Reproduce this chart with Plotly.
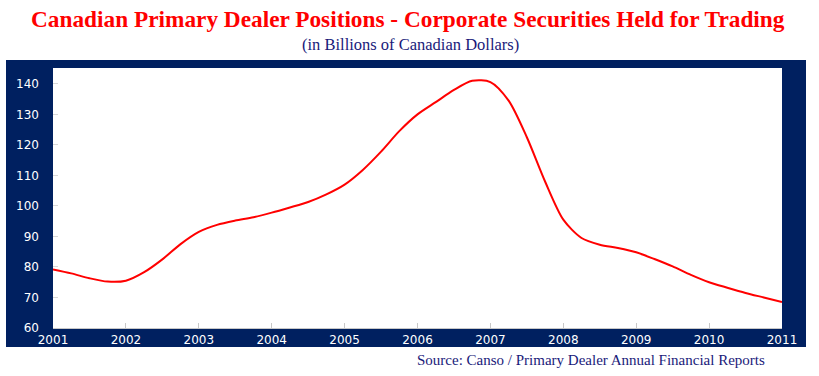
import plotly.graph_objects as go

# Data (decimal years, billions CAD)
years = [2001.0, 2001.25, 2001.5, 2001.75, 2002.0, 2002.25, 2002.5, 2002.75,
         2003.0, 2003.25, 2003.5, 2003.75, 2004.0, 2004.25, 2004.5, 2004.75,
         2005.0, 2005.25, 2005.5, 2005.75, 2006.0, 2006.25, 2006.5, 2006.75,
         2007.0, 2007.25, 2007.5, 2007.75, 2008.0, 2008.25, 2008.5, 2008.75,
         2009.0, 2009.25, 2009.5, 2009.75, 2010.0, 2010.25, 2010.5, 2010.75,
         2011.0]
positions = [79.2, 77.9, 76.3, 75.2, 75.5, 78.3, 82.5, 87.5,
             91.5, 93.8, 95.2, 96.3, 97.8, 99.5, 101.3, 103.8,
             107.0, 111.8, 117.8, 124.5, 130.0, 134.0, 138.0, 141.0,
             140.6, 134.5, 122.5, 108.0, 95.5, 89.5, 87.3, 86.2,
             84.8, 82.6, 80.2, 77.4, 75.0, 73.2, 71.5, 70.0,
             68.5]
x_ticks = [2001, 2002, 2003, 2004, 2005, 2006, 2007, 2008, 2009, 2010, 2011]
x_tick_labels = [str(y) for y in x_ticks]
y_ticks = [60, 70, 80, 90, 100, 110, 120, 130, 140]

NAVY = "#002060"

fig = go.Figure()
fig.add_trace(go.Scatter(x=years, y=positions, mode="lines",
                         line=dict(color="#ff0000", width=2, shape="spline", smoothing=0.8),
                         hoverinfo="x+y", showlegend=False))

W, H = 819, 376
ml, mr, mt, mb = 53, 37, 68, 48
pw, ph = W - ml - mr, H - mt - mb

def px_x(p):
    return (p - ml) / pw

def px_y(p):
    return (H - mb - p) / ph

fig.add_shape(type="rect", xref="paper", yref="paper",
              x0=px_x(6), x1=px_x(806), y0=px_y(347), y1=px_y(60),
              fillcolor=NAVY, line=dict(width=0), layer="below")
fig.add_shape(type="rect", xref="paper", yref="paper",
              x0=0, x1=1, y0=0, y1=1,
              fillcolor="white", line=dict(width=0), layer="below")

tickfont = dict(family="DejaVu Sans", size=12, color="white")

fig.update_layout(
    width=W, height=H,
    margin=dict(l=ml, r=mr, t=mt, b=mb),
    paper_bgcolor="white", plot_bgcolor="white",
    xaxis=dict(range=[2001, 2011], tickvals=x_ticks, ticktext=x_tick_labels,
               showgrid=False, zeroline=False, ticks="inside", ticklen=5,
               tickcolor="#c8c8c8", showline=True, linecolor="#c8c8c8",
               tickfont=tickfont, fixedrange=True, ticklabelstandoff=1),
    yaxis=dict(range=[60, 145.2], tickvals=y_ticks,
               showgrid=False, zeroline=False, ticks="inside", ticklen=5,
               tickcolor="#d8d8d8", showline=False,
               tickfont=tickfont, fixedrange=True, ticklabelstandoff=13),
    annotations=[
        dict(text="<b>Canadian Primary Dealer Positions - Corporate Securities Held for Trading</b>",
             xref="paper", yref="paper", x=px_x(408), y=px_y(19),
             xanchor="center", yanchor="middle", showarrow=False,
             font=dict(family="Liberation Serif", size=23.3, color="#ff0000")),
        dict(text="(in Billions of Canadian Dollars)",
             xref="paper", yref="paper", x=px_x(410), y=px_y(44),
             xanchor="center", yanchor="middle", showarrow=False,
             font=dict(family="Liberation Serif", size=16.5, color="#1a1a7a")),
        dict(text="Source: Canso / Primary Dealer Annual Financial Reports",
             xref="paper", yref="paper", x=px_x(767), y=px_y(360),
             xanchor="right", yanchor="middle", showarrow=False,
             font=dict(family="Liberation Serif", size=15, color="#1a1a7a")),
    ],
)

fig.write_html("out.html", config={"displayModeBar": False},
               post_script="document.body.style.margin='0';")
